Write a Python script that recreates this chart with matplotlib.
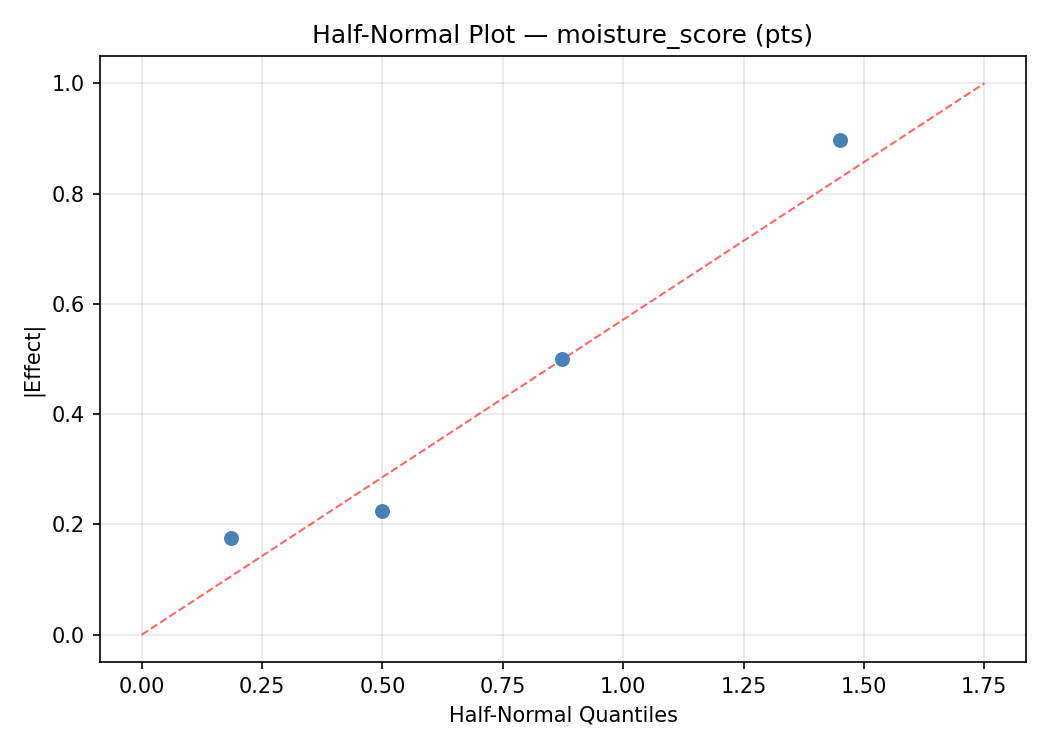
import matplotlib
matplotlib.use("Agg")
import matplotlib.pyplot as plt
import numpy as np

# half-normal quantiles and absolute effects
quantiles = [0.186, 0.500, 0.873, 1.451]
effects = [0.175, 0.225, 0.500, 0.898]

# reference line
line_x = [0.0, 1.75]
line_y = [0.0, 1.0]

fig, ax = plt.subplots(figsize=(7, 5), dpi=150)
ax.scatter(quantiles, effects, color='steelblue', s=38, zorder=3)
ax.plot(line_x, line_y, color='red', linestyle='--', alpha=0.6, linewidth=1)
ax.set_xlabel('Half-Normal Quantiles')
ax.set_ylabel('|Effect|')
ax.set_title('Half-Normal Plot \u2014 moisture_score (pts)')
ax.grid(True, alpha=0.3)
fig.subplots_adjust(left=0.0948, right=0.9776, top=0.9257, bottom=0.1169)
plt.savefig('out.png')
